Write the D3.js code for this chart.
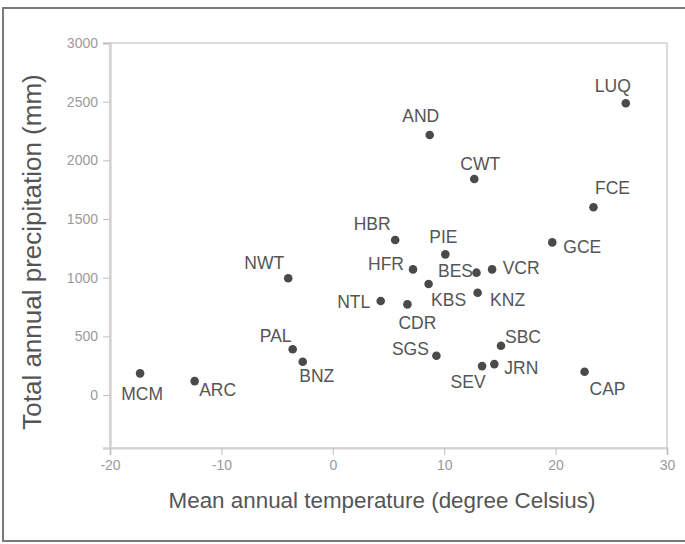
<!DOCTYPE html>
<html>
<head>
<meta charset="utf-8">
<script src="https://cdn.jsdelivr.net/npm/d3@7"></script>
<style>
  html, body { margin: 0; padding: 0; background: #fff; }
  svg { display: block; }
</style>
</head>
<body>
<svg id="chart" width="685" height="544"></svg>
<script>
// LTER sites: mean annual temperature (°C) vs total annual precipitation (mm)
const sites = ["MCM", "ARC", "NWT", "PAL", "BNZ", "NTL", "HBR", "HFR", "CDR", "KBS", "AND",
               "PIE", "SGS", "BES", "CWT", "KNZ", "SEV", "VCR", "JRN", "SBC", "GCE", "CAP", "FCE", "LUQ"];
const temperature = [-17.3, -12.4, -4.0, -3.6, -2.7, 4.3, 5.6, 7.2, 6.7, 8.6, 8.7,
                     10.1, 9.3, 12.9, 12.7, 13.0, 13.4, 14.3, 14.5, 15.1, 19.7, 22.6, 23.4, 26.3];
const precipitation = [185, 119, 995, 390, 284, 801, 1321, 1071, 773, 946, 2216,
                       1199, 335, 1043, 1841, 872, 247, 1071, 264, 420, 1301, 199, 1600, 2486];
const xTicks = [-20, -10, 0, 10, 20, 30];
const yTicks = [0, 500, 1000, 1500, 2000, 2500, 3000];

// label placement (centre of each label relative to its dot, in px)
const labelOffset = {
  MCM: [2, 20], ARC: [23, 9], NWT: [-24, -16], PAL: [-17, -14], BNZ: [14, 14],
  NTL: [-27, 1], HBR: [-23, -16], HFR: [-27, -6], CDR: [10, 18], KBS: [20, 16],
  AND: [-9, -19], PIE: [-2, -18], SGS: [-26, -7], BES: [-21, -2], CWT: [6, -15],
  KNZ: [30, 7], SEV: [-14, 16], VCR: [29, -2], JRN: [27, 4], SBC: [22, -9],
  GCE: [30, 4], CAP: [23, 17], FCE: [19, -20], LUQ: [-13, -18]
};

const data = sites.map((s, i) => ({ site: s, t: temperature[i], p: precipitation[i] }));

const svg = d3.select("#chart");
const plot = { left: 110, right: 667, top: 43, bottom: 448 };

const x = d3.scaleLinear().domain([-20, 30]).range([plot.left, plot.right]);
const y = d3.scaleLinear().domain([-451, 3000]).range([plot.bottom, plot.top]);

// plain hyphen for negative numbers
const fmt = d => String(d);

// outer frame (open on the right edge)
svg.append("rect")
  .attr("x", 3).attr("y", 8).attr("width", 700).attr("height", 533)
  .attr("fill", "none").attr("stroke", "#7a7a7a").attr("stroke-width", 2);

// plot area border
svg.append("rect")
  .attr("x", plot.left).attr("y", plot.top)
  .attr("width", plot.right - plot.left).attr("height", plot.bottom - plot.top)
  .attr("fill", "none").attr("stroke", "#cfcfcf").attr("stroke-width", 1.5);

// y axis
const yAxis = svg.append("g")
  .attr("transform", `translate(${plot.left},0)`)
  .call(d3.axisLeft(y).tickValues(yTicks).tickSize(7).tickPadding(5).tickFormat(fmt));
yAxis.select(".domain").attr("stroke", "#d4d4d4").attr("stroke-width", 2.5);
yAxis.selectAll(".tick line").attr("stroke", "#bdbdbd");
yAxis.selectAll(".tick text")
  .attr("fill", "#9a9a9a").style("font-family", "'Liberation Sans', Arial, sans-serif")
  .style("font-size", "14px");

// x axis
const xAxis = svg.append("g")
  .attr("transform", `translate(0,${plot.bottom})`)
  .call(d3.axisBottom(x).tickValues(xTicks).tickSize(7).tickPadding(5).tickFormat(fmt));
xAxis.select(".domain").attr("stroke", "#d4d4d4").attr("stroke-width", 2);
xAxis.selectAll(".tick line").attr("stroke", "#bdbdbd");
xAxis.selectAll(".tick text")
  .attr("fill", "#9a9a9a").style("font-family", "'Liberation Sans', Arial, sans-serif")
  .style("font-size", "14px");

// axis titles
svg.append("text")
  .attr("transform", "translate(41,252) rotate(-90)")
  .attr("text-anchor", "middle")
  .attr("fill", "#555")
  .style("font-family", "'Liberation Sans', Arial, sans-serif")
  .style("font-size", "26px")
  .text("Total annual precipitation (mm)");

svg.append("text")
  .attr("x", 382).attr("y", 508)
  .attr("text-anchor", "middle")
  .attr("fill", "#555")
  .style("font-family", "'Liberation Sans', Arial, sans-serif")
  .style("font-size", "22.4px")
  .text("Mean annual temperature (degree Celsius)");

// dots
svg.append("g").selectAll("circle")
  .data(data).join("circle")
  .attr("cx", d => x(d.t)).attr("cy", d => y(d.p))
  .attr("r", 4.3).attr("fill", "#4a4a4a");

// site labels
svg.append("g").selectAll("text")
  .data(data).join("text")
  .attr("x", d => x(d.t) + labelOffset[d.site][0])
  .attr("y", d => y(d.p) + labelOffset[d.site][1])
  .attr("dy", "0.36em")
  .attr("text-anchor", "middle")
  .attr("fill", "#555")
  .style("font-family", "'Liberation Sans', Arial, sans-serif")
  .style("font-size", "17.5px")
  .text(d => d.site);
</script>
</body>
</html>
